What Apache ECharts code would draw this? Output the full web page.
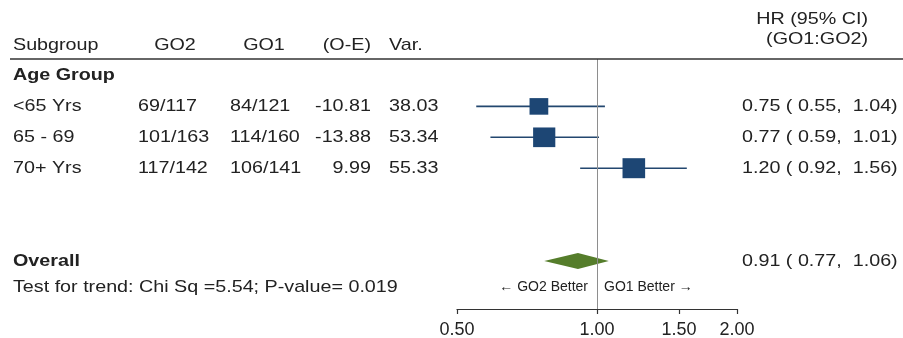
<!DOCTYPE html>
<html>
<head>
<meta charset="utf-8">
<script src="https://cdn.jsdelivr.net/npm/echarts@6/dist/echarts.min.js"></script>
<style>
  html, body { margin: 0; padding: 0; background: #fff; }
  #chart { width: 903px; height: 338px; }
</style>
</head>
<body>
<div id="chart"></div>
<script>
// Subgroup results (hazard ratio GO1:GO2 with 95% CI)
const subgroups = ['<65 Yrs', '65 - 69', '70+ Yrs'];
const go2Events = [69, 101, 117];
const go2Totals = [117, 163, 142];
const go1Events = [84, 114, 106];
const go1Totals = [121, 160, 141];
const observedMinusExpected = [-10.81, -13.88, 9.99];
const variances = [38.03, 53.34, 55.33];
const hazardRatios = [0.75, 0.77, 1.20];
const ciLower = [0.55, 0.59, 0.92];
const ciUpper = [1.04, 1.01, 1.56];

// Pooled estimate
const overallHR = 0.91;
const overallLower = 0.77;
const overallUpper = 1.06;

// Trend test
const trendChiSq = 5.54;
const trendP = '0.019';

// Axis ticks (hazard ratio scale)
const xTickValues = [0.5, 1, 1.5, 2];

// ---- layout / style ----
const FONT = 'Liberation Sans, Arial, Helvetica, sans-serif';
const TEXT_COLOR = '#222';
const TEXT_SCALE = 1.16;          // horizontally widened lettering
const GROUP_ROW = 0;
const OVERALL_ROW = 6;
const FOOT_ROW = 6.86;
const SQUARE_K = 2.69;            // square height per sqrt(variance)
const SQUARE_ASPECT = 1.13;
const DIAMOND_HALF = 8;

const log2 = Math.log2;
const fmt2 = v => v.toFixed(2);
const pad5 = v => {
  const s = v.toFixed(2);
  return s.length < 5 ? ' '.repeat(5 - s.length) + s : s;
};
const hrText = (h, l, u) => `${fmt2(h)} (${pad5(l)}, ${pad5(u)})`;

const chart = echarts.init(document.getElementById('chart'), null, { renderer: 'canvas' });

const subgroupData = subgroups.map((s, i) => [
  log2(ciLower[i]), log2(ciUpper[i]), log2(hazardRatios[i]), i + 1, variances[i]
]);
const overallData = [[log2(overallLower), log2(overallUpper), log2(overallHR), OVERALL_ROW]];

chart.setOption({
  animation: false,
  backgroundColor: '#fff',
  grid: { left: 457, right: 166, top: 59, bottom: 29, containLabel: false, outerBoundsMode: 'none' },
  xAxis: {
    type: 'value',
    position: 'bottom',
    min: -1,
    max: 1,
    splitLine: { show: false },
    axisLine: { show: true, onZero: false, lineStyle: { color: '#333', width: 1.2 } },
    axisTick: {
      show: true,
      customValues: xTickValues.map(log2),
      length: 5,
      lineStyle: { color: '#333', width: 1.2 }
    },
    axisLabel: {
      customValues: xTickValues.map(log2),
      formatter: v => Math.pow(2, v).toFixed(2),
      fontSize: 18,
      fontFamily: FONT,
      color: TEXT_COLOR,
      margin: 12
    }
  },
  yAxis: {
    type: 'value',
    inverse: true,
    min: -0.534,
    max: 7.557,
    show: false
  },
  series: [
    {
      name: 'subgroups',
      type: 'custom',
      data: subgroupData,
      encode: { x: [0, 1, 2], y: 3 },
      renderItem(params, api) {
        const row = api.value(3);
        const lo = api.coord([api.value(0), row]);
        const hi = api.coord([api.value(1), row]);
        const c = api.coord([api.value(2), row]);
        const h = SQUARE_K * Math.sqrt(api.value(4));
        const w = h * SQUARE_ASPECT;
        return {
          type: 'group',
          children: [
            { type: 'line', shape: { x1: lo[0], y1: lo[1], x2: hi[0], y2: hi[1] },
              style: { stroke: '#23476f', lineWidth: 1.6 } },
            { type: 'rect', shape: { x: c[0] - w / 2, y: c[1] - h / 2, width: w, height: h },
              style: { fill: '#1d4674' } }
          ]
        };
      },
      markLine: {
        silent: true,
        symbol: ['none', 'none'],
        label: { show: false },
        lineStyle: { color: '#8e8e8e', width: 1, type: 'solid' },
        data: [{ xAxis: 0 }]
      },
      z: 3
    },
    {
      name: 'overall',
      type: 'custom',
      data: overallData,
      encode: { x: [0, 1, 2], y: 3 },
      renderItem(params, api) {
        const row = api.value(3);
        const lo = api.coord([api.value(0), row]);
        const hi = api.coord([api.value(1), row]);
        const c = api.coord([api.value(2), row]);
        return {
          type: 'polygon',
          shape: { points: [[lo[0], lo[1]], [c[0], c[1] - DIAMOND_HALF], [hi[0], hi[1]], [c[0], c[1] + DIAMOND_HALF]] },
          style: { fill: '#557d2b' }
        };
      },
      z: 3
    }
  ]
});

// ---- table text, placed on the same row scale ----
const rowY = r => chart.convertToPixel({ yAxisIndex: 0 }, r);
const refX = chart.convertToPixel({ xAxisIndex: 0 }, 0);

function txt(text, x, y, o = {}) {
  return {
    type: 'text',
    x, y,
    scaleX: o.scale || TEXT_SCALE,
    silent: true,
    z: 10,
    style: {
      text,
      fill: TEXT_COLOR,
      fontSize: o.size || 17,
      fontWeight: o.bold ? 'bold' : 'normal',
      fontFamily: FONT,
      align: o.align || 'left',
      verticalAlign: 'middle'
    }
  };
}

const headerY = 45.5;
const els = [
  txt('HR (95% CI)', 868, 19.5, { align: 'right' }),
  txt('(GO1:GO2)', 868, 39.5, { align: 'right' }),
  txt('Subgroup', 13, headerY),
  txt('GO2', 175, headerY, { align: 'center' }),
  txt('GO1', 264, headerY, { align: 'center' }),
  txt('(O-E)', 371, headerY, { align: 'right' }),
  txt('Var.', 389, headerY),
  {
    type: 'line', silent: true, z: 9,
    shape: { x1: 10, y1: 59, x2: 903, y2: 59 },
    style: { stroke: '#333', lineWidth: 1.5 }
  },
  txt('Age Group', 13, rowY(GROUP_ROW), { bold: true })
];

subgroups.forEach((name, i) => {
  const y = rowY(i + 1);
  els.push(
    txt(name, 13, y),
    txt(`${go2Events[i]}/${go2Totals[i]}`, 138, y),
    txt(`${go1Events[i]}/${go1Totals[i]}`, 230, y),
    txt(fmt2(observedMinusExpected[i]), 371, y, { align: 'right' }),
    txt(fmt2(variances[i]), 389, y),
    txt(hrText(hazardRatios[i], ciLower[i], ciUpper[i]), 742, y)
  );
});

const yo = rowY(OVERALL_ROW);
const yf = rowY(FOOT_ROW);
els.push(
  txt('Overall', 13, yo, { bold: true }),
  txt(hrText(overallHR, overallLower, overallUpper), 742, yo),
  txt(`Test for trend: Chi Sq =${trendChiSq.toFixed(2)}; P-value= ${trendP}`, 13, yf),
  txt('\u2190 GO2 Better', refX - 9, yf, { size: 14, scale: 1.0, align: 'right' }),
  txt('GO1 Better \u2192', refX + 7, yf, { size: 14, scale: 1.0 })
);

chart.setOption({ graphic: { elements: els } });
</script>
</body>
</html>
